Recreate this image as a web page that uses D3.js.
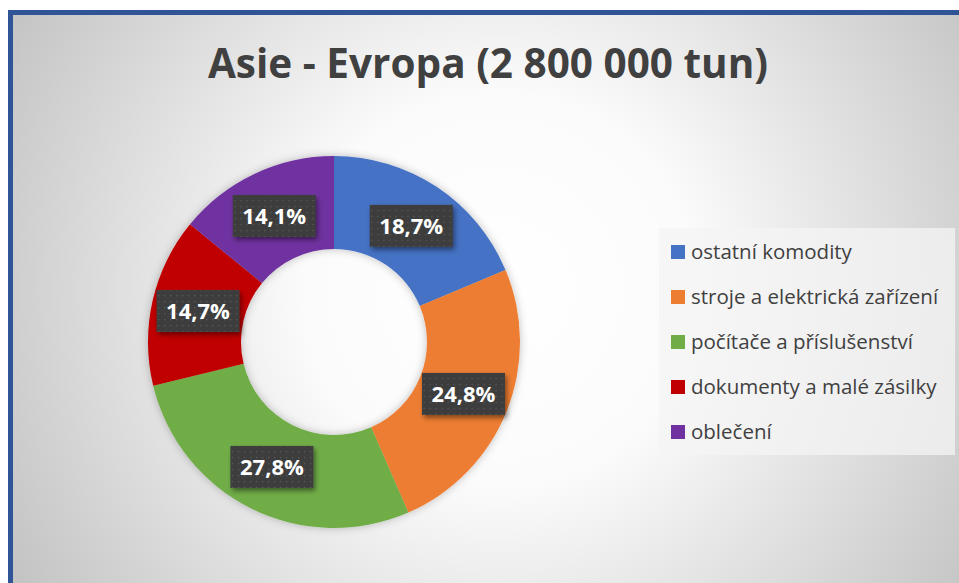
<!DOCTYPE html>
<html>
<head>
<meta charset="utf-8">
<script src="https://cdn.jsdelivr.net/npm/d3@7"></script>
<style>
  html, body { margin: 0; padding: 0; background: #fff; }
  svg { display: block; }
</style>
</head>
<body>
<div id="chart"></div>
<script>
// ── Data ─────────────────────────────────────────────────────────
const title = 'Asie - Evropa (2 800 000 tun)';
const categories = [
  'ostatní komodity',
  'stroje a elektrická zařízení',
  'počítače a příslušenství',
  'dokumenty a malé zásilky',
  'oblečení'
];
const shares = [18.7, 24.8, 27.8, 14.7, 14.1];
const colors = ['#4472C4', '#ED7D31', '#70AD47', '#C00000', '#7030A0'];

// ── Setup ────────────────────────────────────────────────────────
const W = 959, H = 583;
const svg = d3.select('#chart').append('svg')
  .attr('width', W)
  .attr('height', H);

const defs = svg.append('defs');

const bg = defs.append('radialGradient')
  .attr('id', 'bg')
  .attr('gradientUnits', 'userSpaceOnUse')
  .attr('cx', 500).attr('cy', 290).attr('r', 560);
bg.append('stop').attr('offset', '0%').attr('stop-color', '#ffffff');
bg.append('stop').attr('offset', '35%').attr('stop-color', '#fbfbfb');
bg.append('stop').attr('offset', '100%').attr('stop-color', '#c4c4c4');

const dots = defs.append('pattern')
  .attr('id', 'dots')
  .attr('patternUnits', 'userSpaceOnUse')
  .attr('width', 6).attr('height', 6);
dots.append('rect').attr('width', 6).attr('height', 6).attr('fill', '#3d3d3d');
dots.append('rect').attr('x', 2).attr('y', 2).attr('width', 1.3).attr('height', 1.3).attr('fill', '#5a5a5a');

const shadow = defs.append('filter').attr('id', 'shadow')
  .attr('x', '-20%').attr('y', '-20%').attr('width', '150%').attr('height', '160%');
shadow.append('feDropShadow')
  .attr('dx', 2).attr('dy', 3).attr('stdDeviation', 2.5)
  .attr('flood-color', '#000').attr('flood-opacity', 0.45);

const ringShadow = defs.append('filter').attr('id', 'ringShadow')
  .attr('x', '-10%').attr('y', '-10%').attr('width', '120%').attr('height', '120%');
ringShadow.append('feDropShadow')
  .attr('dx', 0).attr('dy', 0).attr('stdDeviation', 4)
  .attr('flood-color', '#000').attr('flood-opacity', 0.25);

// Background + frame
svg.append('rect')
  .attr('x', 10.5).attr('y', 12.5)
  .attr('width', W + 20).attr('height', H + 20)
  .attr('fill', 'url(#bg)')
  .attr('stroke', '#2F5597')
  .attr('stroke-width', 5);

// Title
svg.append('text')
  .attr('x', 488).attr('y', 78)
  .attr('text-anchor', 'middle')
  .attr('font-family', 'Open Sans, sans-serif')
  .attr('font-weight', 700)
  .attr('font-size', 40.5)
  .attr('fill', '#404040')
  .text(title);

// ── Donut ────────────────────────────────────────────────────────
const cx = 334, cy = 342, outerR = 186, innerR = 93;

const pie = d3.pie().sort(null).value(d => d);
const arcs = pie(shares);
const arc = d3.arc().innerRadius(innerR).outerRadius(outerR);

const g = svg.append('g').attr('transform', `translate(${cx},${cy})`);

g.append('g')
  .attr('filter', 'url(#ringShadow)')
  .selectAll('path')
  .data(arcs)
  .enter()
  .append('path')
  .attr('d', arc)
  .attr('fill', (d, i) => colors[i]);

// Labels
const fmt = v => d3.format('.1f')(v).replace('.', ',') + '%';
const boxW = 83, boxH = 42;

const labels = g.selectAll('.lbl')
  .data(arcs)
  .enter()
  .append('g')
  .attr('class', 'lbl')
  .attr('transform', d => `translate(${arc.centroid(d)})`);

labels.append('rect')
  .attr('x', -boxW / 2).attr('y', -boxH / 2)
  .attr('width', boxW).attr('height', boxH)
  .attr('fill', 'url(#dots)')
  .attr('filter', 'url(#shadow)');

labels.append('text')
  .attr('text-anchor', 'middle')
  .attr('dy', '0.36em')
  .attr('font-family', 'Open Sans, sans-serif')
  .attr('font-weight', 700)
  .attr('font-size', 22)
  .attr('fill', '#fff')
  .text(d => fmt(d.data));

// ── Legend ───────────────────────────────────────────────────────
const legend = svg.append('g');
legend.append('rect')
  .attr('x', 659).attr('y', 228)
  .attr('width', 296).attr('height', 227)
  .attr('fill', '#f4f4f4')
  .attr('fill-opacity', 0.75);

const rowY = d3.scalePoint()
  .domain(categories)
  .range([252, 432]);

const rows = legend.selectAll('.row')
  .data(categories)
  .enter()
  .append('g')
  .attr('transform', d => `translate(671,${rowY(d)})`);

rows.append('rect')
  .attr('x', 0).attr('y', -7)
  .attr('width', 14).attr('height', 14)
  .attr('fill', (d, i) => colors[i]);

rows.append('text')
  .attr('x', 20).attr('dy', '0.35em')
  .attr('font-family', 'Open Sans, sans-serif')
  .attr('font-size', 20.5)
  .attr('fill', '#404040')
  .text(d => d);
</script>
</body>
</html>
